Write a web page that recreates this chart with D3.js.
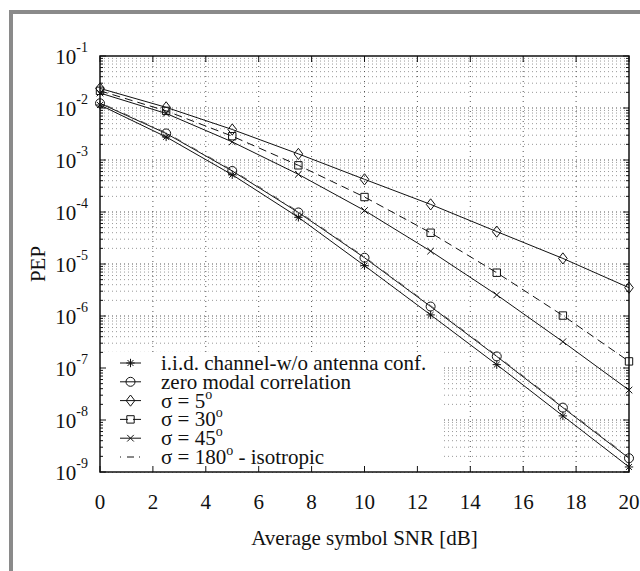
<!DOCTYPE html>
<html>
<head>
<meta charset="utf-8">
<script src="https://cdn.jsdelivr.net/npm/d3@7"></script>
<style>
  body { margin: 0; background: #fff; }
  text { font-family: "Liberation Serif", "Times New Roman", serif; fill: #111; }
</style>
</head>
<body>
<div id="chart"></div>
<script>
// SNR points (dB) where every curve is sampled
const snr = [0, 2.5, 5, 7.5, 10, 12.5, 15, 17.5, 20];

// PEP values
const iidNoConf   = [1.14e-2, 2.78e-3, 5.2e-4, 7.9e-5, 9.3e-6, 1.05e-6, 1.16e-7, 1.2e-8, 1.25e-9];
const zeroModal   = [1.23e-2, 3.24e-3, 6.15e-4, 9.8e-5, 1.32e-5, 1.52e-6, 1.67e-7, 1.73e-8, 1.84e-9];
const sigma5      = [2.38e-2, 1.03e-2, 3.86e-3, 1.31e-3, 4.25e-4, 1.40e-4, 4.2e-5, 1.28e-5, 3.5e-6];
const sigma30     = [2.14e-2, 8.8e-3, 2.87e-3, 7.9e-4, 1.94e-4, 3.99e-5, 6.8e-6, 1.02e-6, 1.34e-7];
const sigma45     = [1.94e-2, 7.86e-3, 2.23e-3, 5.3e-4, 1.07e-4, 1.77e-5, 2.55e-6, 3.2e-7, 3.76e-8];
const isotropic   = [1.27e-2, 3.35e-3, 6.4e-4, 1.02e-4, 1.37e-5, 1.58e-6, 1.74e-7, 1.8e-8, 1.92e-9];

const legendLabels = [
    "i.i.d. channel-w/o antenna conf.",
    "zero modal correlation",
    "σ = 5",
    "σ = 30",
    "σ = 45",
    "σ = 180"
];
const legendSuffix = ["", "", "", "", "", " - isotropic"];

const xTicks = [0, 2, 4, 6, 8, 10, 12, 14, 16, 18, 20];
const yExponents = [-1, -2, -3, -4, -5, -6, -7, -8, -9];

function drawChart() {
    const width = 640, height = 571;
    const plot = {left: 100, right: 629, top: 56, bottom: 472};

    const svg = d3.select("#chart").append("svg")
        .attr("width", width)
        .attr("height", height);

    // grey frame of the figure window (only top and left edges visible)
    svg.append("path")
        .attr("d", "M11,571 V12 H640")
        .attr("fill", "none")
        .attr("stroke", "#8a8a8a")
        .attr("stroke-width", 4);

    const x = d3.scaleLinear().domain([0, 20]).range([plot.left, plot.right]);
    const y = d3.scaleLog().domain([1e-9, 1e-1]).range([plot.bottom, plot.top]);

    // grid: dotted lines at every log step and every x tick
    const grid = svg.append("g");
    yExponents.slice(1).forEach(e => {
        for (let m = 1; m <= 9; m++) {
            const v = m * Math.pow(10, e);
            grid.append("line")
                .attr("x1", plot.left).attr("x2", plot.right)
                .attr("y1", y(v)).attr("y2", y(v))
                .attr("stroke", m === 1 ? "#555" : "#999")
                .attr("stroke-width", 1)
                .attr("stroke-dasharray", "1,3");
        }
    });
    xTicks.slice(1, -1).forEach(t => {
        grid.append("line")
            .attr("x1", x(t)).attr("x2", x(t))
            .attr("y1", plot.top).attr("y2", plot.bottom)
            .attr("stroke", "#555")
            .attr("stroke-width", 1)
            .attr("stroke-dasharray", "1,4");
    });

    // legend background hides the grid under it
    svg.append("rect")
        .attr("x", plot.left + 1).attr("y", 352)
        .attr("width", 342).attr("height", plot.bottom - 352)
        .attr("fill", "#fff");

    // ticks (inward) on all four sides
    const ticks = svg.append("g").attr("stroke", "#111").attr("stroke-width", 1);
    yExponents.forEach(e => {
        for (let m = 1; m <= 9; m++) {
            const v = m * Math.pow(10, e);
            if (v > 1e-1 + 1e-12 || v < 1e-9 * 0.999) continue;
            const len = m === 1 ? 6 : 3;
            ticks.append("line").attr("x1", plot.left).attr("x2", plot.left + len)
                .attr("y1", y(v)).attr("y2", y(v));
            ticks.append("line").attr("x1", plot.right).attr("x2", plot.right - len)
                .attr("y1", y(v)).attr("y2", y(v));
        }
    });
    xTicks.forEach(t => {
        ticks.append("line").attr("x1", x(t)).attr("x2", x(t))
            .attr("y1", plot.bottom).attr("y2", plot.bottom - 6);
        ticks.append("line").attr("x1", x(t)).attr("x2", x(t))
            .attr("y1", plot.top).attr("y2", plot.top + 6);
    });

    // axes box
    svg.append("rect")
        .attr("x", plot.left).attr("y", plot.top)
        .attr("width", plot.right - plot.left).attr("height", plot.bottom - plot.top)
        .attr("fill", "none").attr("stroke", "#111").attr("stroke-width", 1.5);

    // x tick labels
    svg.append("g").selectAll("text")
        .data(xTicks).enter().append("text")
        .attr("x", d => x(d))
        .attr("y", 509)
        .attr("text-anchor", "middle")
        .attr("font-size", 21)
        .text(d => d);

    // y tick labels 10^e
    const yl = svg.append("g").selectAll("text")
        .data(yExponents).enter().append("text")
        .attr("x", 88)
        .attr("y", d => y(Math.pow(10, d)) + 8)
        .attr("text-anchor", "end")
        .attr("font-size", 21);
    yl.append("tspan").text("10");
    yl.append("tspan").attr("dy", -12).attr("font-size", 14).text(d => "-" + Math.abs(d));

    svg.append("text")
        .attr("x", (plot.left + plot.right) / 2).attr("y", 545)
        .attr("text-anchor", "middle").attr("font-size", 21)
        .text("Average symbol SNR [dB]");

    svg.append("text")
        .attr("transform", "translate(45," + ((plot.top + plot.bottom) / 2) + ") rotate(-90)")
        .attr("text-anchor", "middle").attr("font-size", 21)
        .text("PEP");

    // marker shapes
    const markers = {
        star: s => `M${-s},0H${s}M0,${-s}V${s}M${-s * 0.7},${-s * 0.7}L${s * 0.7},${s * 0.7}M${-s * 0.7},${s * 0.7}L${s * 0.7},${-s * 0.7}`,
        circle: s => `M${s},0A${s},${s} 0 1,1 ${-s},0A${s},${s} 0 1,1 ${s},0Z`,
        diamond: s => `M0,${-s * 1.3}L${s},0L0,${s * 1.3}L${-s},0Z`,
        square: s => `M${-s},${-s}H${s}V${s}H${-s}Z`,
        cross: s => `M${-s},${-s}L${s},${s}M${-s},${s}L${s},${-s}`,
        none: s => ""
    };

    const series = [
        {values: iidNoConf, marker: "star", size: 4.2, dash: null},
        {values: zeroModal, marker: "circle", size: 4.5, dash: null},
        {values: sigma5, marker: "diamond", size: 4.3, dash: null},
        {values: sigma30, marker: "square", size: 3.7, dash: "8,5"},
        {values: sigma45, marker: "cross", size: 3.3, dash: null},
        {values: isotropic, marker: "none", size: 0, dash: "1,6,7,5"}
    ];

    const line = d3.line()
        .x((d, i) => x(snr[i]))
        .y(d => y(d));

    series.forEach(s => {
        svg.append("path")
            .datum(s.values)
            .attr("d", line)
            .attr("fill", "none")
            .attr("stroke", s.marker === "none" ? "#555" : "#111")
            .attr("stroke-width", 1)
            .attr("stroke-dasharray", s.dash);
        svg.append("g").selectAll("path")
            .data(s.values).enter().append("path")
            .attr("transform", (d, i) => `translate(${x(snr[i])},${y(d)})`)
            .attr("d", markers[s.marker](s.size))
            .attr("fill", "none")
            .attr("stroke", "#111")
            .attr("stroke-width", 1);
    });

    // legend
    const rowY = d3.scaleLinear().domain([0, 5]).range([363, 457]);
    series.forEach((s, i) => {
        const ly = rowY(i);
        svg.append("line")
            .attr("x1", 120).attr("x2", 141)
            .attr("y1", ly).attr("y2", ly)
            .attr("stroke", "#111").attr("stroke-width", 1)
            .attr("stroke-dasharray", s.dash);
        svg.append("path")
            .attr("transform", `translate(130.5,${ly})`)
            .attr("d", markers[s.marker](s.size))
            .attr("fill", "none").attr("stroke", "#111");
        const t = svg.append("text")
            .attr("x", 161).attr("y", ly + 7)
            .attr("font-size", 21);
        t.append("tspan").text(legendLabels[i]);
        if (i >= 2) {
            t.append("tspan").attr("dy", -9).attr("font-size", 14).text("o");
            t.append("tspan").attr("dy", 9).text(legendSuffix[i]);
        }
    });
}

document.addEventListener('DOMContentLoaded', drawChart);
</script>
</body>
</html>
